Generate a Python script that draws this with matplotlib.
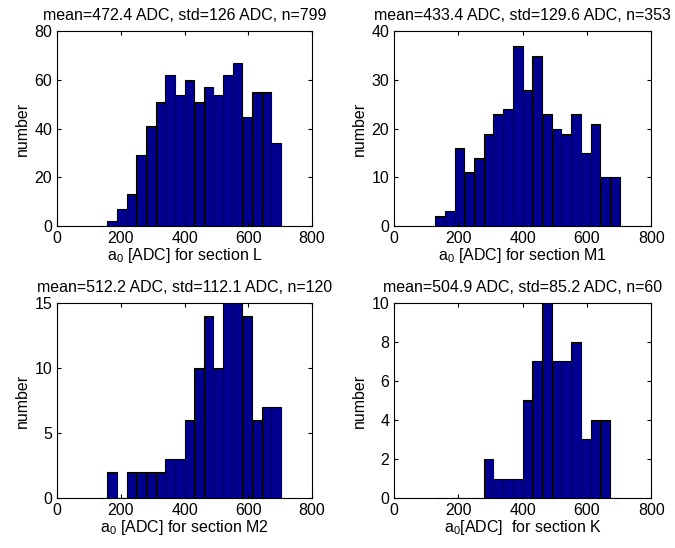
import numpy as np
import matplotlib
matplotlib.use('Agg')
from matplotlib import pyplot as plt

plt.rcParams['font.family'] = ['Liberation Sans', 'DejaVu Sans']
plt.rcParams['font.size'] = 11.5
plt.rcParams['mathtext.fontset'] = 'custom'
plt.rcParams['mathtext.rm'] = 'Liberation Sans'
plt.rcParams['mathtext.it'] = 'Liberation Sans'

# общие границы бинов (19 бинов, как в исходной гистограмме)
edges = np.linspace(128, 702, 20)

counts_L = [0, 2, 7, 13, 29, 41, 51, 62, 54, 60, 51, 57, 54, 62, 67, 45, 55, 55, 34]
counts_M1 = [2, 3, 16, 11, 14, 19, 23, 24, 37, 28, 35, 23, 20, 19, 23, 15, 21, 10, 10]
counts_M2 = [0, 2, 0, 2, 2, 2, 2, 3, 3, 6, 10, 14, 10, 15, 15, 14, 6, 7, 7]
counts_K = [0, 0, 0, 0, 0, 2, 1, 1, 1, 5, 7, 10, 7, 7, 8, 3, 4, 4, 0]

titles = ['mean=472.4 ADC, std=126 ADC, n=799',
          'mean=433.4 ADC, std=129.6 ADC, n=353',
          'mean=512.2 ADC, std=112.1 ADC, n=120',
          'mean=504.9 ADC, std=85.2 ADC, n=60']
xlabels = ['a$_{0}$ [ADC] for section L',
           'a$_{0}$ [ADC] for section M1',
           'a$_{0}$ [ADC] for section M2',
           'a$_{0}$[ADC]  for section K']
yticks = [[0, 20, 40, 60, 80], [0, 10, 20, 30, 40], [0, 5, 10, 15], [0, 2, 4, 6, 8, 10]]
all_counts = [counts_L, counts_M1, counts_M2, counts_K]

fig = plt.figure(figsize=(6.75, 5.48), dpi=100)
positions = [[0.0844, 0.5876, 0.378, 0.355],
             [0.5837, 0.5876, 0.381, 0.355],
             [0.0844, 0.0912, 0.378, 0.356],
             [0.5837, 0.0912, 0.381, 0.356]]

for i in range(4):
    ax = fig.add_axes(positions[i])
    c = np.array(all_counts[i])
    ax.bar(edges[:-1], c, width=np.diff(edges), align='edge',
           color='#000090', edgecolor='black', linewidth=0.8)
    ax.set_xlim(0, 800)
    ax.set_ylim(0, yticks[i][-1])
    ax.set_xticks([0, 200, 400, 600, 800])
    ax.set_yticks(yticks[i])
    ax.tick_params(direction='in', top=True, right=True, length=3, pad=3.5)
    ax.set_title(titles[i], fontsize=11.5, pad=8)
    ax.set_xlabel(xlabels[i], labelpad=0)
    ax.set_ylabel('number', labelpad=3)

fig.savefig('out.png', dpi=100)
